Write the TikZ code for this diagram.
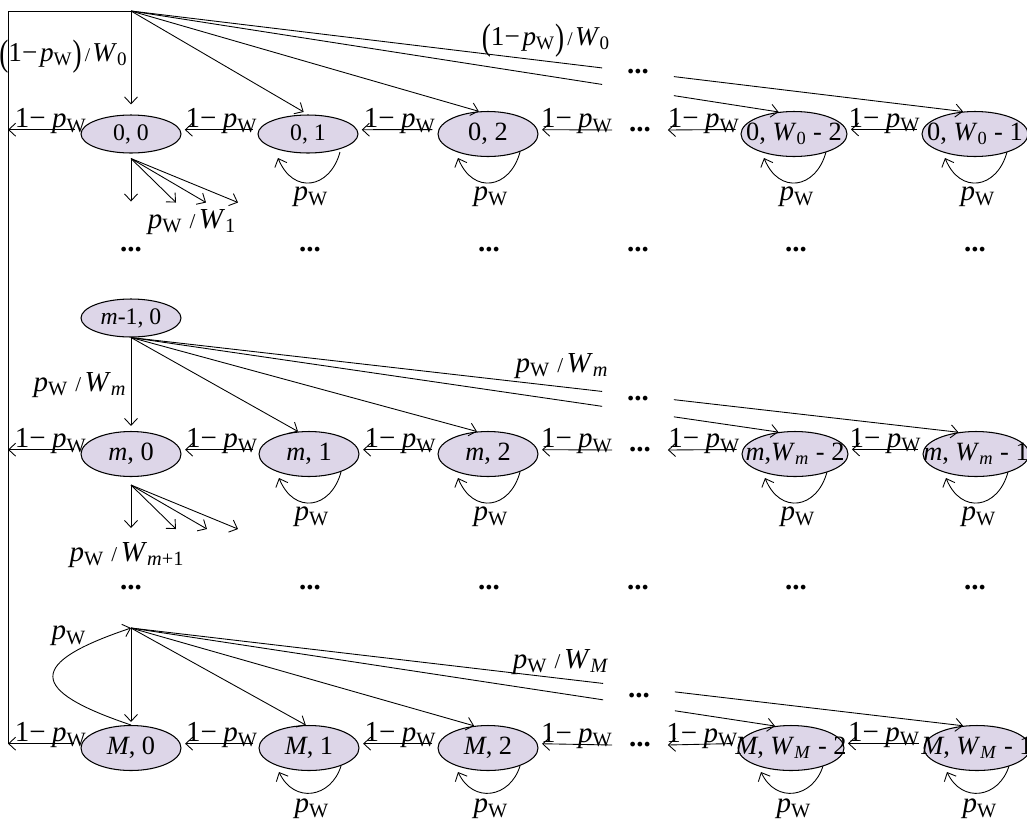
\documentclass[tikz,border=0pt]{standalone}
\usepackage{fontspec}
\setmainfont{Liberation Serif}
\usepackage{graphicx}
\usetikzlibrary{shapes.geometric,arrows.meta,calc}
\definecolor{lav}{RGB}{221,214,232}
\newcommand{\pw}{\textit{p}\textsubscript{W}}
\newcommand{\omp}{1−\hspace{0.22em}\pw}
\newcommand{\ompt}{1−\hspace{0.1em}\pw}
\newcommand{\Wsub}[1]{\textit{W}\textsubscript{#1}}
\newcommand{\slh}{\hspace{0.25em}{\fontsize{12}{12}\selectfont /}\hspace{0.12em}}
\newcommand{\slt}{\hspace{0.12em}{\fontsize{11}{11}\selectfont /}\hspace{0.08em}}
\newcommand{\Lpr}{\raisebox{-0.15em}{\scalebox{1}[1.35]{(}}}
\newcommand{\Rpr}{\raisebox{-0.15em}{\scalebox{1}[1.35]{)}}}
\newcommand{\zw}[1]{\makebox[0pt]{#1}}
\newcommand{\dd}{\textbf{...}}
\begin{document}
\begin{tikzpicture}[x=0.02cm, y=-0.02cm,
  every node/.style={font=\fontsize{16.5}{18}\selectfont},
  st/.style={ellipse, draw, line width=0.6pt, fill=lav, minimum width=2cm, minimum height=0.9cm, inner sep=0pt, font=\fontsize{15}{17}\selectfont},
  sts/.style={st, minimum height=0.76cm, font=\fontsize{13.5}{15}\selectfont},
  stw/.style={st, minimum width=2.12cm},
  arr/.style={line width=0.5pt, -{Straight Barb[length=1.4mm,width=2.6mm]}},
  ln/.style={line width=0.5pt},
  harr/.style={arr, shorten <=0.12cm, shorten >=0.09cm},
  gapn/.style={inner sep=0pt, minimum width=1.42cm, minimum height=0.4cm},
  dts/.style={inner sep=0pt},
  lab/.style={inner sep=0pt},
  toplab/.style={inner sep=0pt, font=\fontsize{15.5}{17}\selectfont},
  hl/.style={pos=0.5, anchor=base, yshift=1.2pt, xshift=0.04cm, inner sep=0pt},
  loopl/.style={pos=0.5, below=0.08cm, inner sep=0pt}
]
\useasboundingbox (0,0) rectangle (1027,822);

% ---------- nodes: row 0
\node[sts] (n00) at (131,134) {0, 0};
\node[sts] (n01) at (308,134) {0, 1};
\node[st]  (n02) at (488,134) {0, 2};
\node[stw] (n03) at (794,134) {\zw{0, \Wsub{0} - 2}};
\node[stw] (n04) at (975,134) {\zw{0, \Wsub{0} - 1}};
\node[dts, minimum width=1.1cm] (h0) at (640,130) {\dd};
\node[gapn] (g0) at (638,72) {\dd};

% ---------- nodes: row m
\node[sts] (nm10) at (131,318) {\textit{m}-1, 0};
\node[st]  (nm0) at (131,454) {\textit{m}, 0};
\node[st]  (nm1) at (309,454) {\textit{m}, 1};
\node[st]  (nm2) at (488,454) {\textit{m}, 2};
\node[stw] (nm3) at (795,454) {\zw{\textit{m},\Wsub{\textit{m}} - 2}};
\node[stw] (nm4) at (976,454) {\zw{\textit{m}, \Wsub{\textit{m}} - 1}};
\node[dts, minimum width=1.1cm] (hm) at (640,450) {\dd};
\node[gapn] (gm) at (638,399) {\dd};

% ---------- nodes: row M
\node[st]  (nM0) at (131,748) {\textit{M}, 0};
\node[st]  (nM1) at (309,748) {\textit{M}, 1};
\node[st]  (nM2) at (488,748) {\textit{M}, 2};
\node[stw] (nM3) at (791,748) {\zw{\textit{M}, \Wsub{\textit{M}} - 2}};
\node[stw] (nM4) at (977,748) {\zw{\textit{M}, \Wsub{\textit{M}} - 1}};
\node[dts, minimum width=1.1cm] (hM) at (640,745) {\dd};
\node[gapn] (gM) at (639,696) {\dd};

% ---------- dots between rows
\foreach \x [count=\i] in {131,310,489,638,796,975} {
  \node[dts] (da\i) at (\x,250) {\dd};
  \node[dts] (db\i) at (\x,588) {\dd};
}

% ---------- labels
\node[toplab, anchor=east] (lt0) at (128,57) {\Lpr\ompt\Rpr\slt\Wsub{0}};
\node[toplab] (lt1) at (546,41) {\Lpr\ompt\Rpr\slt\Wsub{0}};
\node[lab] (lf0) at (192,222) {\pw\slh\Wsub{1}};
\node[lab] (lm0) at (80,385) {\pw\slh\Wsub{\textit{m}}};
\node[lab] (lm1) at (562,366) {\pw\slh\Wsub{\textit{m}}};
\node[lab] (lfm) at (127,555) {\pw\slh\Wsub{\textit{m}+1}};
\node[lab] (lM0) at (69,636) {\pw};
\node[lab] (lM1) at (561,662) {\pw\slh\Wsub{\textit{M}}};

% ---------- coordinates
\coordinate (tl) at (8,11);
\coordinate (o0) at (131,11);
\coordinate (oM) at (131,628);
\coordinate (t03) at (n03.125);
\coordinate (t04) at (n04.118);
\coordinate (tm3) at (nm3.127);
\coordinate (tm4) at (nm4.129);
\coordinate (tM3) at (nM3.126);
\coordinate (tM4) at (nM4.122);
\foreach \g in {g0,gm,gM} {
  \coordinate (\g a) at (\g.north west);
  \coordinate (\g b) at (\g.south west);
  \coordinate (\g c) at (\g.north east);
  \coordinate (\g d) at (\g.south east);
}
\coordinate (f0) at ($(n00.south)+(0,5)$);
\coordinate (f0a) at ($(f0)+(0,43)$);
\coordinate (f0b) at ($(f0)+(45,44)$);
\coordinate (f0c) at ($(f0)+(75,44)$);
\coordinate (f0d) at ($(f0)+(107,44)$);
\coordinate (fm) at ($(nm0.south)+(0,8)$);
\coordinate (fma) at ($(fm)+(0,43)$);
\coordinate (fmb) at ($(fm)+(45,44)$);
\coordinate (fmc) at ($(fm)+(76,44)$);
\coordinate (fmd) at ($(fm)+(107,44)$);

% ---------- left bus
\draw[ln] (o0) -- (tl) -- (tl |- nM0.175);

% ---------- row 0 fan
\draw[arr, shorten >=0.2cm] (o0) -- (n00.north);
\draw[arr, shorten >=0.1cm] (o0) -- (n01.north);
\draw[arr] (o0) -- (n02.112);
\draw[ln] (o0) -- (intersection of o0--t03 and g0a--g0b);
\draw[arr] (intersection of o0--t03 and g0c--g0d) -- (t03);
\draw[ln] (o0) -- (intersection of o0--t04 and g0a--g0b);
\draw[arr] (intersection of o0--t04 and g0c--g0d) -- (t04);
\foreach \e in {f0a,f0b,f0c,f0d} \draw[arr] (f0) -- (\e);

% ---------- row m fan
\draw[arr, shorten >=0.1cm] (nm10.south) -- (nm0.north);
\draw[arr] (nm10.south) -- (nm1.116);
\draw[arr] (nm10.south) -- (nm2.116);
\draw[ln] (nm10.south) -- (intersection of nm10.south--tm3 and gma--gmb);
\draw[arr] (intersection of nm10.south--tm3 and gmc--gmd) -- (tm3);
\draw[ln] (nm10.south) -- (intersection of nm10.south--tm4 and gma--gmb);
\draw[arr] (intersection of nm10.south--tm4 and gmc--gmd) -- (tm4);
\foreach \e in {fma,fmb,fmc,fmd} \draw[arr] (fm) -- (\e);

% ---------- row M fan
\draw[arr, shorten >=0.06cm] (oM) -- (nM0.north);
\draw[arr] (nM0.north) .. controls +(-104,-35) and +(-104,35) .. (oM);
\draw[arr] (oM) -- (nM1.98);
\draw[arr] (oM) -- (nM2.122);
\draw[ln] (oM) -- (intersection of oM--tM3 and gMa--gMb);
\draw[arr] (intersection of oM--tM3 and gMc--gMd) -- (tM3);
\draw[ln] (oM) -- (intersection of oM--tM4 and gMa--gMb);
\draw[arr] (intersection of oM--tM4 and gMc--gMd) -- (tM4);

% ---------- horizontal 1-p_W arrows
\foreach \r in {0,m,M} {
  \draw[arr, shorten <=0.14cm] (n\r0.175) -- (tl |- n\r0.175) node[hl, xshift=0.08cm]{\omp};
  \draw[harr] (n\r1.175) -- (n\r0.5) node[hl]{\omp};
  \draw[harr] (n\r2.175) -- (n\r1.5) node[hl]{\omp};
  \draw[harr, shorten <=0pt] (h\r.west) -- (n\r2.5) node[hl]{\omp};
  \draw[harr, shorten >=0pt] (n\r3.175) -- (h\r.east) node[hl, xshift=-0.06cm]{\omp};
  \draw[harr] (n\r4.175) -- (n\r3.5) node[hl, xshift=-0.04cm]{\omp};
}

% ---------- self loops
\foreach \n in {n01,n02,n03,n04,nm1,nm2,nm3,nm4}
  \draw[arr] ($(\n)+(32,18)$) .. controls +(-10,37) and +(15,37) .. ($(\n)+(-30,24)$) node[loopl]{\pw};
\foreach \n in {nM1,nM2,nM3,nM4}
  \draw[arr] ($(\n)+(32,18)$) .. controls +(-10,32) and +(15,32) .. ($(\n)+(-30,24)$) node[loopl, below=0.03cm]{\pw};
\end{tikzpicture}
\end{document}
